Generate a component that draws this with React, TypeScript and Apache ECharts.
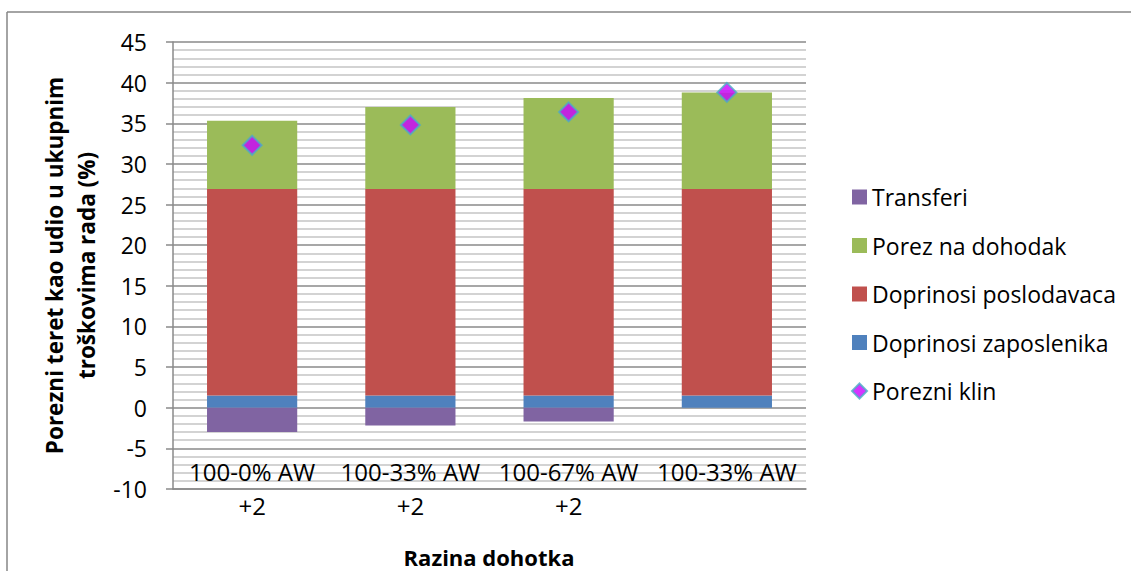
import React, { useEffect, useRef } from "react";
import * as echarts from "echarts";

const categories = ["100-0% AW\n+2", "100-33% AW\n+2", "100-67% AW\n+2", "100-33% AW"];
const transferi = [-3.0, -2.2, -1.7, 0];
const porezNaDohodak = [8.4, 10.1, 11.2, 11.9];
const doprinosiPoslodavaca = [25.4, 25.4, 25.4, 25.4];
const doprinosiZaposlenika = [1.5, 1.5, 1.5, 1.5];
const porezniKlin = [32.3, 34.8, 36.4, 38.8];
const yMin = -10;
const yMax = 45;
const yInterval = 5;

const FONT = "Open Sans";

export default function App() {
  const ref = useRef<HTMLDivElement>(null);
  useEffect(() => {
    document.body.style.margin = "0";
    const chart = echarts.init(ref.current!, null, { renderer: "svg" });
    const gridColor = "#8a8a8a";
    chart.setOption({
      animation: false,
      backgroundColor: "#ffffff",
      textStyle: { fontFamily: FONT },
      grid: { left: 173, top: 42, right: 325, bottom: 82, containLabel: false },
      legend: {
        orient: "vertical",
        left: 846,
        top: 180,
        itemWidth: 15,
        itemHeight: 15,
        itemGap: 24.5,
        textStyle: { fontFamily: FONT, fontSize: 23, color: "#000", lineHeight: 24 },
        data: [
          { name: "Transferi", icon: "rect" },
          { name: "Porez na dohodak", icon: "rect" },
          { name: "Doprinosi poslodavaca", icon: "rect" },
          { name: "Doprinosi zaposlenika", icon: "rect" },
          { name: "Porezni klin", icon: "diamond" },
        ],
      },
      xAxis: {
        type: "category",
        data: categories,
        axisLine: { onZero: false, lineStyle: { color: gridColor, width: 1.5 } },
        axisTick: { show: false },
        axisLabel: {
          interval: 0,
          color: "#000",
          fontFamily: FONT,
          fontSize: 24,
          lineHeight: 34,
          verticalAlign: "top",
          margin: -35,
        },
      },
      yAxis: {
        type: "value",
        min: yMin,
        max: yMax,
        interval: yInterval,
        name: "Porezni teret kao udio u ukupnim\ntroškovima rada (%)",
        nameLocation: "middle",
        nameRotate: 90,
        nameGap: 70,
        nameTextStyle: {
          fontFamily: FONT,
          fontSize: 22.5,
          fontWeight: "bold",
          color: "#000",
          lineHeight: 32,
        },
        axisLine: { show: true, lineStyle: { color: gridColor, width: 1.5 } },
        axisTick: { show: true, inside: false, length: 7, lineStyle: { color: gridColor, width: 1.5 } },
        axisLabel: { color: "#000", fontFamily: FONT, fontSize: 23, margin: 26 },
        splitLine: { show: true, lineStyle: { color: gridColor, width: 1.5 } },
        minorTick: { show: false, splitNumber: 5 },
        minorSplitLine: { show: true, lineStyle: { color: "#c4c4c4", width: 1.5 } },
      },
      series: [
        {
          name: "Doprinosi zaposlenika",
          type: "bar",
          stack: "total",
          barWidth: "57%",
          data: doprinosiZaposlenika,
          itemStyle: { color: "#4F81BD" },
        },
        {
          name: "Doprinosi poslodavaca",
          type: "bar",
          stack: "total",
          data: doprinosiPoslodavaca,
          itemStyle: { color: "#C0504D" },
        },
        {
          name: "Porez na dohodak",
          type: "bar",
          stack: "total",
          data: porezNaDohodak,
          itemStyle: { color: "#9BBB59" },
        },
        {
          name: "Transferi",
          type: "bar",
          stack: "total",
          data: transferi,
          itemStyle: { color: "#8064A2" },
        },
        {
          name: "Porezni klin",
          type: "scatter",
          symbol: "diamond",
          symbolSize: 19,
          z: 5,
          data: porezniKlin,
          itemStyle: { color: "#CC00FF", borderColor: "#4BACC6", borderWidth: 2 },
        },
      ],
      graphic: [
        {
          type: "line",
          shape: { x1: 7, y1: 12, x2: 7, y2: 580 },
          style: { stroke: "#868686", lineWidth: 1.5 },
        },
        {
          type: "line",
          shape: { x1: 7, y1: 12, x2: 1140, y2: 12 },
          style: { stroke: "#868686", lineWidth: 1.5 },
        },
        {
          type: "text",
          x: 489,
          y: 557,
          style: {
            text: "Razina dohotka",
            fontFamily: FONT,
            fontSize: 22,
            fontWeight: "bold",
            fill: "#000",
            align: "center",
            verticalAlign: "middle",
          },
        },
      ],
    });
    return () => chart.dispose();
  }, []);
  return <div ref={ref} style={{ width: 1131, height: 571 }} />;
}
